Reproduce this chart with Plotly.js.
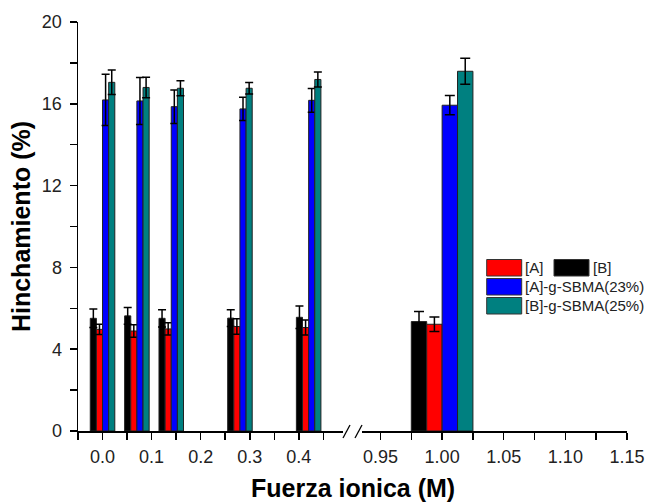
<!DOCTYPE html>
<html><head><meta charset="utf-8">
<script src="https://cdn.plot.ly/plotly-3.0.1.min.js"></script>
<style>html,body{margin:0;padding:0;background:#fff}#chart{width:651px;height:502px}</style>
</head><body><div id="chart"></div>
<script>
// ionic strength (M); last point sits after the axis break
const ionicStrength = [0, 0.07, 0.14, 0.28, 0.42, 1.00];
const seriesNames = ['[B]', '[A]', '[A]-g-SBMA(23%)', '[B]-g-SBMA(25%)'];
const valB   = [5.51, 5.63, 5.51, 5.52, 5.56, 5.35];
const errB   = [0.45, 0.41, 0.42, 0.41, 0.55, 0.49];
const valA   = [4.97, 4.89, 4.99, 5.11, 5.06, 5.22];
const errA   = [0.25, 0.31, 0.30, 0.38, 0.37, 0.36];
const valAg  = [16.19, 16.14, 15.86, 15.75, 16.17, 15.93];
const errAg  = [1.25, 1.15, 0.82, 0.57, 0.58, 0.47];
const valBg  = [17.05, 16.80, 16.76, 16.76, 17.19, 17.59];
const errBg  = [0.60, 0.50, 0.37, 0.28, 0.37, 0.64];
const leftTicks = [0.0, 0.1, 0.2, 0.3, 0.4];
const rightTicks = [0.95, 1.00, 1.05, 1.10, 1.15];
const yTicks = [0, 4, 8, 12, 16, 20];

const colors = ['#000000', '#FF0000', '#0000FF', '#008080'];
const vals = [valB, valA, valAg, valBg];
const errs = [errB, errA, errAg, errBg];
const barW = 0.0125;
const nLeft = 5;

const traces = [];
vals.forEach((v, i) => {
  const off = (i - 2) * barW;
  [['x', 0, nLeft], ['x2', nLeft, ionicStrength.length]].forEach(([xa, a, b]) => {
    traces.push({
      type: 'bar', name: seriesNames[i], xaxis: xa, yaxis: 'y',
      x: ionicStrength.slice(a, b), y: v.slice(a, b),
      width: barW, offset: off,
      marker: {color: colors[i], line: {color: '#222', width: 1}},
      error_y: {type: 'data', array: errs[i].slice(a, b), visible: true,
                color: '#000', thickness: 1.5, width: xa === 'x' ? 4 : 5},
      showlegend: false, hoverinfo: 'skip'
    });
  });
});

const L = 78, R = 627, T = 22, B = 431;
const px = p => (p - L) / (R - L);
const py = p => (B - p) / (B - T);

const fam = 'Arial, "Liberation Sans", sans-serif';
const tickFont = {family: fam, size: 18, color: '#222'};
const legFont = {family: fam, size: 15, color: '#222'};
const axBase = {
  showgrid: false, zeroline: false, showline: true, linecolor: '#000', linewidth: 1.5,
  ticks: 'outside', ticklen: 7, tickwidth: 1.5, tickcolor: '#000', tickfont: tickFont,
  mirror: false, fixedrange: true
};
const minorBase = {ticks: 'outside', ticklen: 7, tickwidth: 1.5, tickcolor: '#000'};

const shapes = [
  // axis break marks
  {type: 'line', xref: 'paper', yref: 'paper', x0: px(343), y0: py(438), x1: px(350), y1: py(425), line: {color: '#000', width: 1.3}},
  {type: 'line', xref: 'paper', yref: 'paper', x0: px(355), y0: py(438), x1: px(362), y1: py(425), line: {color: '#000', width: 1.3}}
];
const annotations = [
  {text: '<b>Fuerza ionica (M)</b>', xref: 'paper', yref: 'paper', x: 0.5, y: py(488), xanchor: 'center', yanchor: 'middle', showarrow: false,
   font: {family: fam, size: 25, color: '#000'}}
];
// manual legend
const legRows = [
  {i: 1, x0: 486.7, x1: 521.7, y0: 259.5, y1: 276, tx: 523},
  {i: 0, x0: 554, x1: 589, y0: 259.5, y1: 276, tx: 591},
  {i: 2, x0: 486.7, x1: 521.7, y0: 278.5, y1: 295, tx: 523},
  {i: 3, x0: 486.7, x1: 521.7, y0: 297.5, y1: 314, tx: 523}
];
legRows.forEach(r => {
  shapes.push({type: 'rect', xref: 'paper', yref: 'paper', x0: px(r.x0), x1: px(r.x1), y0: py(r.y1), y1: py(r.y0),
               fillcolor: colors[r.i], line: {color: '#333', width: 1}});
  annotations.push({text: seriesNames[r.i], xref: 'paper', yref: 'paper', x: px(r.tx), y: py((r.y0 + r.y1) / 2),
                    xanchor: 'left', yanchor: 'middle', showarrow: false, font: legFont});
});

const layout = {
  width: 651, height: 502,
  margin: {l: L, r: 651 - R, t: T, b: 502 - B},
  paper_bgcolor: '#fff', plot_bgcolor: '#fff',
  barmode: 'overlay', showlegend: false,
  xaxis: Object.assign({}, axBase, {domain: [0, px(343)], range: [-0.05, 0.49], tickvals: leftTicks, ticktext: leftTicks.map(v => v.toFixed(1)),
          ticklabelstandoff: 2,
          minor: Object.assign({tickvals: [-0.05, 0.05, 0.15, 0.25, 0.35, 0.45]}, minorBase)}),
  xaxis2: Object.assign({}, axBase, {domain: [px(362), 1], range: [0.935, 1.15], anchor: 'y', tickvals: rightTicks, ticktext: rightTicks.map(v => v.toFixed(2)),
          ticklabelstandoff: 2,
          minor: Object.assign({tickvals: [0.975, 1.025, 1.075, 1.125]}, minorBase)}),
  yaxis: Object.assign({}, axBase, {range: [0, 20], tickvals: yTicks, ticklabelstandoff: 4,
          minor: Object.assign({dtick: 2}, minorBase),
          title: {text: '<b>Hinchamiento (%)</b>', font: {family: fam, size: 25, color: '#000'}, standoff: 4}}),
  shapes: shapes, annotations: annotations
};
Plotly.newPlot('chart', traces, layout, {displayModeBar: false, staticPlot: true});
</script></body></html>
